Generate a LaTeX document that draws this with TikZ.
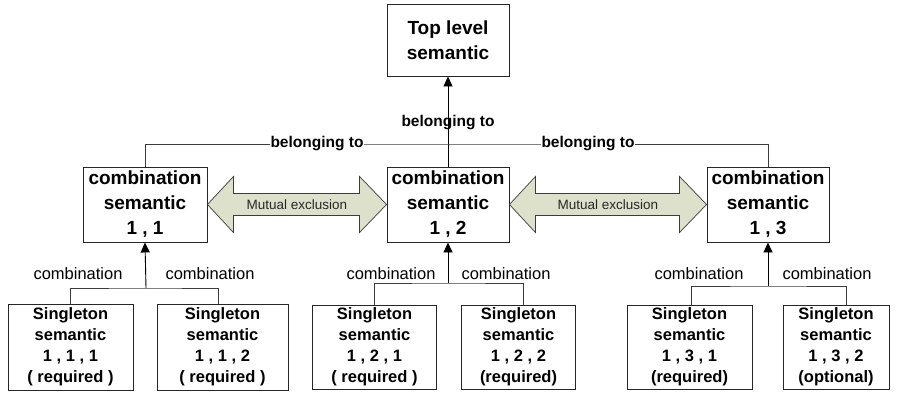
\documentclass[tikz,border=0pt]{standalone}
\usepackage{fontspec}
\setmainfont{Liberation Sans}
\usetikzlibrary{arrows.meta,calc}
\definecolor{linegray}{RGB}{60,60,60}
\definecolor{mutexfill}{RGB}{221,225,204}
\tikzset{
  box/.style={draw=black!85, line width=0.9pt, fill=white, inner sep=0pt, align=center},
  bigbox/.style={box, font=\fontsize{19}{25}\selectfont\bfseries},
  smallbox/.style={box, font=\fontsize{16.5}{21}\selectfont\bfseries},
  link/.style={draw=linegray, line width=0.8pt},
  uparrow/.style={draw=black, line width=0.9pt, -{Triangle[length=10pt,width=9pt]}},
  comblabel/.style={font=\fontsize{16.5}{20}\selectfont, inner sep=0pt},
  belonglabel/.style={font=\fontsize{15.5}{18}\selectfont\bfseries, inner sep=1pt},
  mutex/.style={draw=linegray, line width=0.7pt, fill=mutexfill},
  mutexlabel/.style={font=\fontsize{13.5}{16}\selectfont, text=black!85}
}
\begin{document}
\begin{tikzpicture}[x=1pt,y=-1pt]
\useasboundingbox[fill=white] (0,0) rectangle (899,394);

% top level
\node[bigbox, minimum width=122, minimum height=72] (top) at (448,40) {Top level\\semantic};

% combination level
\node[bigbox, minimum width=124, minimum height=75] (c11) at (145,204.5) {combination\\semantic\\1 , 1};
\node[bigbox, minimum width=122, minimum height=75] (c12) at (448,204.5) {combination\\semantic\\1 , 2};
\node[bigbox, minimum width=122, minimum height=75] (c13) at (768,204.5) {combination\\semantic\\1 , 3};

% singleton level
\node[smallbox, minimum width=125, minimum height=86] (s111) at (70.5,347) {Singleton\\semantic\\1 , 1 , 1\\( required )};
\node[smallbox, minimum width=131, minimum height=86] (s112) at (222.5,347) {Singleton\\semantic\\1 , 1 , 2\\( required )};
\node[smallbox, minimum width=124, minimum height=84] (s121) at (374.5,347) {Singleton\\semantic\\1 , 2 , 1\\( required )};
\node[smallbox, minimum width=114, minimum height=84] (s122) at (518.5,347) {Singleton\\semantic\\1 , 2 , 2\\(required)};
\node[smallbox, minimum width=125, minimum height=84] (s131) at (689.5,347) {Singleton\\semantic\\1 , 3 , 1\\(required)};
\node[smallbox, minimum width=106, minimum height=84] (s132) at (836,347) {Singleton\\semantic\\1 , 3 , 2\\(optional)};

% belonging-to links
\coordinate (hub) at (448,144);
\draw[uparrow] (c12.north) -- (top.south);
\draw[link] (c11.north) |- (hub) -| (c13.north);
\node[belonglabel, fill=white] (bl) at (317,144) {belonging to};
\node[belonglabel, fill=white] (br) at (588,144) {belonging to};
\node[belonglabel] (bm) at (448,123) {belonging to};

% mutual exclusion double arrows
\foreach \a/\b/\n in {c11/c12/m1, c12/c13/m2}{
  \path[mutex] (\a.east) -- ++(26,-28) -- ++(0,17) -- ($(\b.west)+(-27,-11)$) -- ++(0,-17)
    -- (\b.west) -- ++(-27,28) -- ++(0,-17) -- ($(\a.east)+(26,11)$) -- ++(0,17) -- cycle;
  \node[mutexlabel] (\n) at ($(\a.east)!0.5!(\b.west)$) {Mutual exclusion};
}

% combination links
\coordinate (j1) at (146,288);
\coordinate (j2) at (448,283);
\coordinate (j3) at (768,286);
\draw[link] (s111.north) |- (j1) -| ([xshift=-4pt]s112.north);
\draw[uparrow] (j1) -- (c11.south);
\draw[link] (s121.north) |- (j2) -| ([xshift=4.5pt]s122.north);
\draw[uparrow] (j2) -- (c12.south);
\draw[link] ([xshift=1.5pt]s131.north) |- (j3) -| ([xshift=10pt]s132.north);
\draw[uparrow] (j3) -- (c13.south);

\node[comblabel] (l111) at (78,274) {combination};
\node[comblabel] (l112) at (210,274) {combination};
\node[comblabel] (l121) at (391,274) {combination};
\node[comblabel] (l122) at (506,274) {combination};
\node[comblabel] (l131) at (699,274) {combination};
\node[comblabel] (l132) at (827,274) {combination};
\end{tikzpicture}
\end{document}
